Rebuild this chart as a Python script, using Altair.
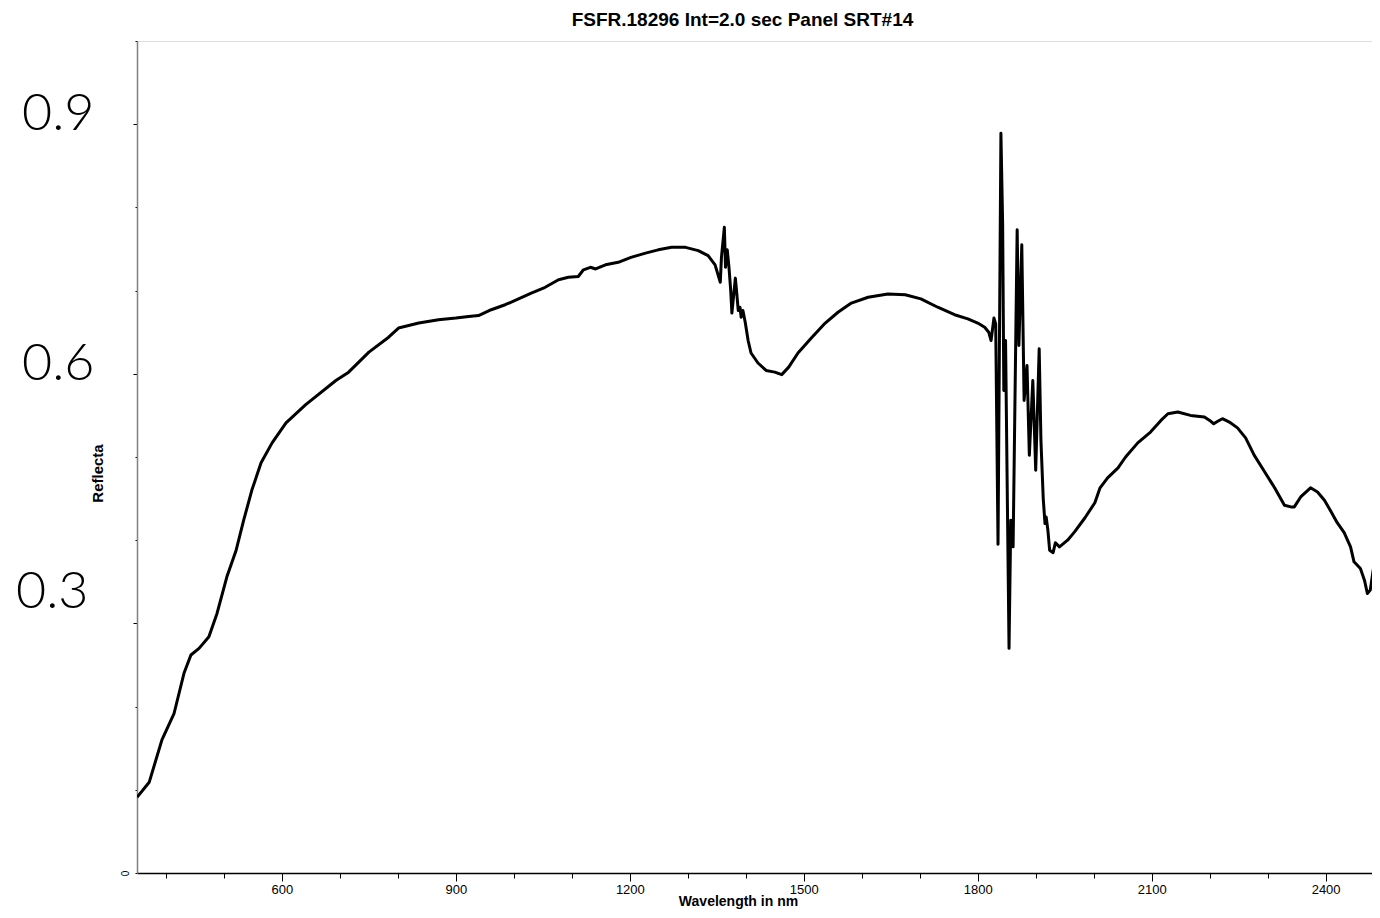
import altair as alt
import pandas as pd

wavelength = [350, 371, 393, 414, 431, 443, 457, 474, 488, 505, 521, 534, 548, 564, 583, 607, 641, 693,
              715, 750, 784, 801, 836, 870, 900, 922, 939, 961, 985, 1008, 1030, 1054, 1077, 1094, 1111,
              1120, 1132, 1141, 1158, 1180, 1202, 1227, 1249, 1272, 1296, 1318, 1335, 1347, 1356, 1358,
              1363, 1365, 1368, 1371, 1374, 1376, 1382, 1384, 1387, 1390, 1392, 1395, 1399, 1404, 1409,
              1421, 1435, 1450, 1462, 1474, 1490, 1513, 1537, 1559, 1582, 1611, 1645, 1675, 1702, 1731,
              1760, 1783, 1800, 1812, 1819, 1823, 1828, 1831, 1835, 1840, 1843, 1845, 1848, 1854, 1857,
              1861, 1868, 1871, 1876, 1880, 1885, 1889, 1895, 1900, 1906, 1909, 1913, 1916, 1918, 1921,
              1924, 1930, 1934, 1941, 1955, 1967, 1985, 2002, 2011, 2024, 2042, 2055, 2076, 2098, 2116,
              2128, 2145, 2167, 2191, 2200, 2207, 2214, 2222, 2234, 2248, 2262, 2277, 2295, 2312, 2329,
              2340, 2346, 2357, 2374, 2386, 2398, 2408, 2420, 2432, 2443, 2449, 2460, 2467, 2472, 2477,
              2482, 2486, 2490]
reflectance = [0.091, 0.109, 0.160, 0.192, 0.240, 0.262, 0.270, 0.284, 0.312, 0.356, 0.388, 0.424, 0.460,
               0.493, 0.517, 0.541, 0.563, 0.592, 0.602, 0.626, 0.644, 0.655, 0.661, 0.665, 0.667, 0.669,
               0.670, 0.677, 0.683, 0.690, 0.697, 0.704, 0.713, 0.716, 0.717, 0.725, 0.728, 0.726, 0.731,
               0.734, 0.740, 0.745, 0.749, 0.752, 0.752, 0.748, 0.742, 0.731, 0.710, 0.740, 0.776, 0.728,
               0.749, 0.728, 0.700, 0.673, 0.715, 0.700, 0.676, 0.680, 0.668, 0.676, 0.662, 0.640, 0.625,
               0.613, 0.604, 0.602, 0.599, 0.608, 0.625, 0.643, 0.661, 0.674, 0.685, 0.692, 0.696, 0.695,
               0.690, 0.680, 0.671, 0.666, 0.661, 0.656, 0.650, 0.640, 0.667, 0.660, 0.395, 0.889, 0.779,
               0.580, 0.640, 0.270, 0.424, 0.392, 0.773, 0.634, 0.755, 0.568, 0.610, 0.502, 0.592, 0.484,
               0.630, 0.520, 0.450, 0.420, 0.428, 0.412, 0.388, 0.385, 0.397, 0.392, 0.400, 0.410, 0.427,
               0.445, 0.463, 0.475, 0.487, 0.500, 0.517, 0.530, 0.544, 0.552, 0.554, 0.550, 0.548, 0.544,
               0.540, 0.543, 0.546, 0.542, 0.535, 0.523, 0.502, 0.482, 0.463, 0.442, 0.440, 0.440, 0.452,
               0.463, 0.458, 0.448, 0.436, 0.421, 0.409, 0.392, 0.374, 0.366, 0.352, 0.336, 0.340, 0.364,
               0.340, 0.320]

x_ticks = list(range(400, 2500, 100))
y_ticks = [0.0, 0.1, 0.2, 0.3, 0.4, 0.5, 0.6, 0.7, 0.8, 0.9, 1.0]

big_labels_upper = ["0.9", "0.6"]
big_values_upper = [0.9, 0.6]
big_labels_lower = ["0.3"]
big_values_lower = [0.3]

df = pd.DataFrame({"nm": wavelength, "r": reflectance})
df_up = pd.DataFrame({"lab": big_labels_upper, "v": big_values_upper})
df_lo = pd.DataFrame({"lab": big_labels_lower, "v": big_values_lower})

x_scale = alt.Scale(domain=[350, 2480], nice=False, zero=False)
y_scale = alt.Scale(domain=[0, 1], nice=False, zero=True)

line = alt.Chart(df).mark_line(color="black", strokeWidth=3, strokeJoin="round", clip=True).encode(
    x=alt.X("nm:Q", scale=x_scale, axis=alt.Axis(
        values=x_ticks, format="d",
        labelExpr="datum.value % 300 === 0 ? datum.label : ''",
        tickSize={"condition": {"test": "datum.value % 300 === 0", "value": 8}, "value": 5},
        tickColor="black", tickWidth=1, domainColor="black", domainWidth=1.5,
        grid=False, labelFont="Liberation Sans Narrow, Liberation Sans", labelFontSize=13,
        labelColor="black", labelPadding=2,
        title="Wavelength in nm", titleFont="Liberation Sans", titleFontSize=14,
        titleFontWeight="bold", titleColor="black", titleX=601, titleY=28,
        titleAlign="center", titleBaseline="middle")),
    y=alt.Y("r:Q", scale=y_scale, axis=alt.Axis(
        values=y_ticks,
        labelExpr="datum.value === 0 ? '0' : ''",
        labelAngle=-90, labelFontSize=10, labelFont="Liberation Sans", labelColor="black",
        labelPadding=5,
        tickSize={"condition": {"test": "datum.value == 0.3 || datum.value == 0.6 || datum.value == 0.9",
                                "value": 4}, "value": 2},
        tickColor="black", domainColor="#808080", domainWidth=1.5, grid=False,
        title="Reflecta", titleFont="Liberation Sans", titleFontSize=15, titleFontWeight="bold",
        titleColor="black", titleX=-40, titleY=432, titleAngle=-90,
        titleAlign="center", titleBaseline="middle")),
)

upper = alt.Chart(df_up).mark_text(font="Lato", fontWeight=300, fontSize=52, align="left",
                                   baseline="middle", dy=-10, color="black").encode(
    x=alt.value(-115), y=alt.Y("v:Q", scale=y_scale), text="lab:N")
lower = alt.Chart(df_lo).mark_text(font="Lato", fontWeight=300, fontSize=52, align="left",
                                   baseline="middle", dy=-31, color="black").encode(
    x=alt.value(-121), y=alt.Y("v:Q", scale=y_scale), text="lab:N")

chart = alt.layer(line, upper, lower).properties(
    width=1235, height=832,
    title=alt.TitleParams("FSFR.18296 Int=2.0 sec  Panel SRT#14", font="Liberation Sans",
                          fontSize=19, fontWeight="bold", color="black", anchor="middle",
                          frame="group", offset=11, dx=-12),
    autosize=alt.AutoSizeParams(type="none"),
    padding={"left": 129, "top": 33, "right": 0, "bottom": 37},
).configure_view(stroke=None).configure(background="white")

chart.save("out.html", embed_options={"renderer": "svg", "actions": False})
